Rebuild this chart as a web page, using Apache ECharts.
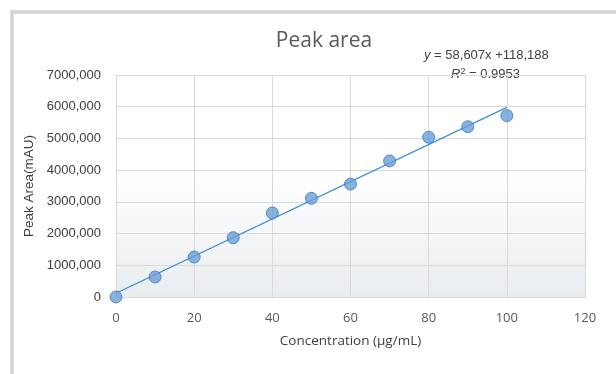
<!DOCTYPE html>
<html>
<head>
<meta charset="utf-8">
<script src="https://cdn.jsdelivr.net/npm/echarts@6/dist/echarts.min.js"></script>
<style>html,body{margin:0;padding:0;background:#fff;overflow:hidden;}#c{width:616px;height:374px;}</style>
</head>
<body>
<div id="c"></div>
<script>
var concentrations = [0, 10, 20, 30, 40, 50, 60, 70, 80, 90, 100];
var peakAreas = [0, 630000, 1260000, 1870000, 2650000, 3110000, 3560000, 4290000, 5040000, 5370000, 5720000];
var trendX = [0, 100];
var trendY = [118188, 5978888];
var chartTitle = 'Peak area';
var xName = 'Concentration (\u00b5g/mL)';
var yName = 'Peak Area(mAU)';

var chart = echarts.init(document.getElementById('c'), null, {renderer: 'canvas'});
var scatterData = concentrations.map(function (x, i) { return [x, peakAreas[i]]; });
var trendData = trendX.map(function (x, i) { return [x, trendY[i]]; });

chart.setOption({
  animation: false,
  backgroundColor: '#fff',
  title: {
    text: chartTitle,
    left: 319,
    textAlign: 'center',
    top: 26,
    textStyle: {fontFamily: 'Open Sans', fontSize: 21, fontWeight: 'normal', color: '#595959'}
  },
  grid: {
    left: 116, right: 31, top: 75, bottom: 77,
    show: true,
    borderWidth: 0,
    backgroundColor: {
      type: 'linear', x: 0, y: 0, x2: 0, y2: 1,
      colorStops: [{offset: 0, color: '#ffffff'}, {offset: 0.45, color: '#ffffff'}, {offset: 1, color: '#e9ecef'}]
    }
  },
  xAxis: {
    type: 'value', min: 0, max: 120, interval: 20,
    name: xName, nameLocation: 'middle', nameGap: 37,
    nameTextStyle: {fontFamily: 'Open Sans', fontSize: 13.5, color: '#404040'},
    axisLine: {show: true, lineStyle: {color: '#d9d9d9', width: 1}},
    axisTick: {show: false},
    axisLabel: {fontFamily: 'Open Sans', fontSize: 13, color: '#595959', margin: 15},
    splitLine: {show: true, lineStyle: {color: '#d9d9d9', width: 1}}
  },
  yAxis: {
    type: 'value', min: 0, max: 7000000, interval: 1000000,
    name: yName, nameLocation: 'middle', nameGap: 71, nameRotate: 90,
    nameTextStyle: {fontFamily: 'Liberation Sans', fontSize: 13.5, color: '#404040'},
    axisLine: {show: true, lineStyle: {color: '#d9d9d9', width: 1}},
    axisTick: {show: false},
    axisLabel: {
      fontFamily: 'Liberation Sans', fontSize: 13, color: '#404040', margin: 15,
      formatter: function (v) { return v === 0 ? '0' : (v / 1000) + ',000'; }
    },
    splitLine: {show: true, lineStyle: {color: '#d9d9d9', width: 1}}
  },
  graphic: [
    {type: 'line', shape: {x1: 12, y1: 12, x2: 640, y2: 12}, style: {stroke: '#d4d4d4', lineWidth: 3.5}, z: 100},
    {type: 'line', shape: {x1: 12, y1: 10.5, x2: 12, y2: 380}, style: {stroke: '#d4d4d4', lineWidth: 3.5}, z: 100},
    {type: 'text', left: 424, top: 49, style: {
      text: '{i|y} = 58,607x +118,188',
      rich: {i: {fontStyle: 'italic', fontFamily: 'Liberation Sans', fontSize: 13, fill: '#404040'}},
      fontFamily: 'Liberation Sans', fontSize: 13, fill: '#404040'}},
    {type: 'text', left: 451, top: 67, style: {
      text: '{i|R}{s|2} = 0.9953',
      rich: {i: {fontStyle: 'italic', fontFamily: 'Liberation Sans', fontSize: 13, fill: '#404040'},
             s: {fontFamily: 'Liberation Sans', fontSize: 9, fill: '#404040', verticalAlign: 'top', padding: [0, 0, 6, 0]}},
      fontFamily: 'Liberation Sans', fontSize: 13, fill: '#404040'}}
  ],
  series: [
    {
      type: 'line', data: trendData, showSymbol: false, symbol: 'none',
      lineStyle: {color: '#3a8dd6', width: 1.2}, z: 2
    },
    {
      type: 'scatter', data: scatterData, symbol: 'circle', symbolSize: 12,
      itemStyle: {color: '#6a9fd8', borderColor: '#3f78b8', borderWidth: 1}, z: 3
    }
  ]
});
</script>
</body>
</html>
